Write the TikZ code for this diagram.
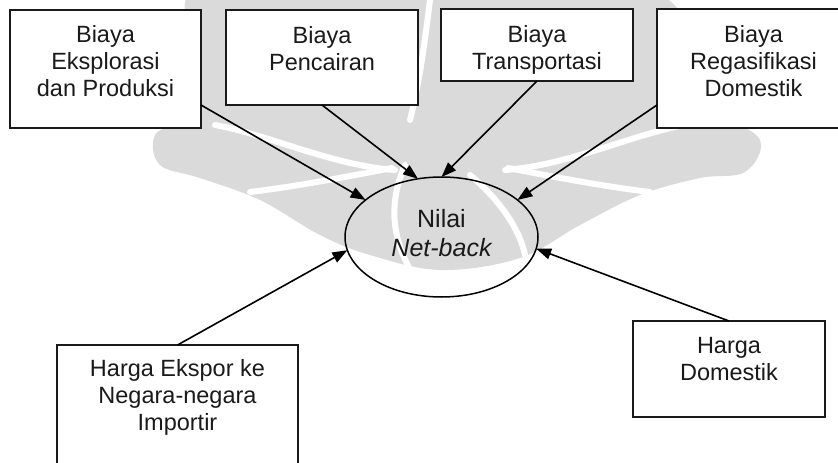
\documentclass[tikz,border=0pt]{standalone}
\usepackage{fontspec}
\setmainfont{Liberation Sans}
\usetikzlibrary{arrows.meta,shapes.geometric,calc}
\definecolor{ink}{HTML}{1A1A1A}
\definecolor{wm}{HTML}{DADADA}
\begin{document}
\begin{tikzpicture}[x=1pt,y=-1pt,
  frame/.style={draw=ink, fill=white, line width=1.6pt, inner sep=0pt, outer sep=0pt},
  txt/.style={text=ink, font=\fontsize{23.5}{27}\selectfont, align=center, anchor=base, inner sep=0pt},
  bigtxt/.style={text=ink, font=\fontsize{25}{29}\selectfont, anchor=base, inner sep=0pt},
  feed/.style={draw=black, line width=1.6pt, -{Triangle[length=15pt,width=11pt]}}]
\useasboundingbox (0,0) rectangle (838,463);
\fill[white] (0,0) rectangle (838,463);
\clip (0,0) rectangle (838,463);

% faint emblem in the background
\fill[wm] plot[smooth cycle, tension=0.6] coordinates {
  (190,-5) (300,-5) (420,-5) (540,-5) (660,-5) (700,60) (720,110) (760,140)
  (745,172) (700,178) (640,195) (580,225) (520,258) (441,270) (370,255)
  (320,235) (260,200) (200,178) (160,165) (155,135) (185,115) (200,60)};
\begin{scope}[white, line width=6pt, line cap=round]
  \draw (215,125) .. controls (270,135) and (330,165) .. (395,170);
  \draw (685,125) .. controls (630,135) and (570,165) .. (505,170);
  \draw (250,192) .. controls (300,186) and (350,176) .. (392,168);
  \draw (650,192) .. controls (600,186) and (550,176) .. (508,168);
  \draw (405,165) .. controls (385,210) and (395,250) .. (420,285);
  \draw (470,175) .. controls (500,200) and (520,230) .. (525,255);
  \draw (430,0) .. controls (425,40) and (420,80) .. (410,120);
\end{scope}

% cost and price boxes
\node[frame, minimum width=191, minimum height=118] (b1) at (105.5,69) {};
\node[frame, minimum width=192, minimum height=95]  (b2) at (322,57.5) {};
\node[frame, minimum width=192, minimum height=72]  (b3) at (537,45) {};
\node[frame, minimum width=193, minimum height=119] (b4) at (753.5,68.5) {};
\node[frame, minimum width=241, minimum height=135] (b5) at (177.5,412.5) {};
\node[frame, minimum width=192, minimum height=96]  (b6) at (729,369) {};

% labels: the base anchor sits on the last line
\node[txt] (t1) at (105.5,96.5) {Biaya\\Eksplorasi\\dan Produksi};
\node[txt] (t2) at (322,70.5) {Biaya\\Pencairan};
\node[txt] (t3) at (537,69.7) {Biaya\\Transportasi};
\node[txt] (t4) at (753.5,96.7) {Biaya\\Regasifikasi\\Domestik};
\node[txt] (t5) at (177.5,430.7) {Harga Ekspor ke\\Negara-negara\\Importir};
\node[txt] (t6) at (729,380) {Harga\\Domestik};

% central value
\node[ellipse, draw=black, line width=1.5pt, inner sep=0pt, outer sep=0pt,
      minimum width=193, minimum height=120] (nv) at (441.5,237) {};
\node[bigtxt] (n1) at (441.5,227) {Nilai};
\node[bigtxt] (n2) at (441.5,256) {\itshape Net-back};

% influences
\draw[feed] ($(b1.south east)+(0,-23)$) -- (nv.154);
\draw[feed] (b2.south) -- (nv.112);
\draw[feed] (b3.south) -- (nv.90);
\draw[feed] ($(b4.south west)+(0,-23)$) -- (nv.26);
\draw[feed] (b5.north) -- (nv.188);
\draw[feed] (b6.north) -- (nv.353);
\end{tikzpicture}
\end{document}
